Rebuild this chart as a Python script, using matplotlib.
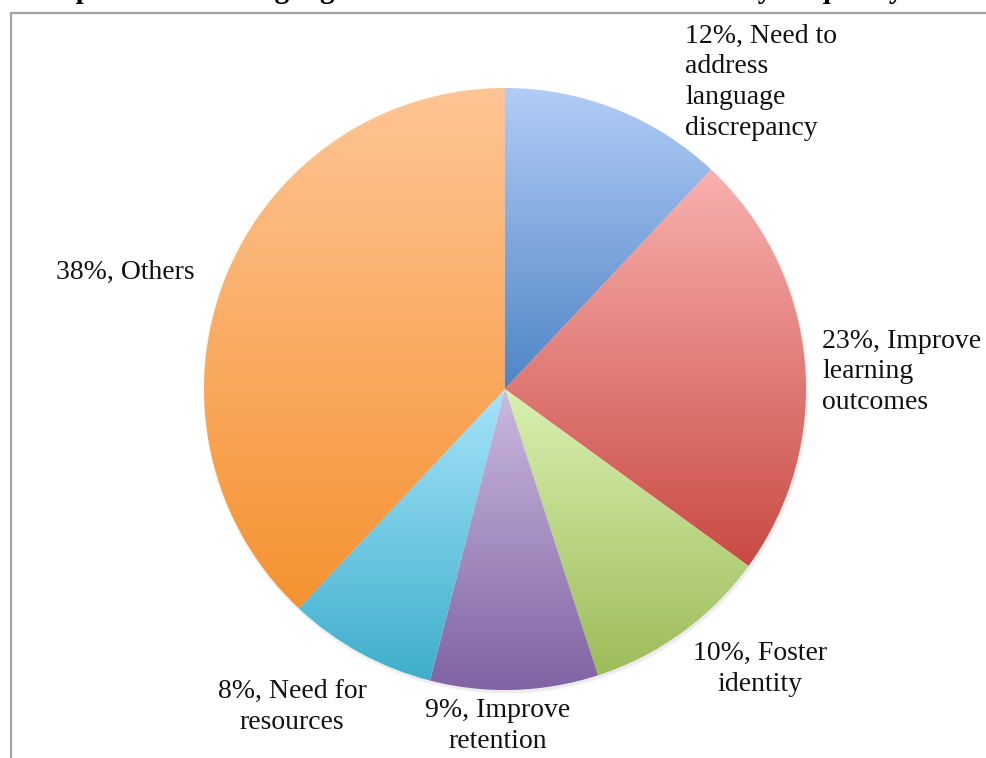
import numpy as np
import matplotlib
matplotlib.use("Agg")
import matplotlib.pyplot as plt
from matplotlib.colors import LinearSegmentedColormap
from matplotlib.lines import Line2D
from matplotlib.patches import Circle

# data (clockwise from 12 o'clock)
reasons = ["Need to\naddress\nlanguage\ndiscrepancy", "Improve\nlearning\noutcomes",
           "Foster\nidentity", "Improve\nretention", "Need for\nresources", "Others"]
shares = [12, 23, 10, 9, 8, 38]
top_colors = ["#b2ccf6", "#f9b1af", "#d9f1b2", "#cbbadf", "#a6e4fa", "#ffc595"]
bottom_colors = ["#4f85c6", "#c94a43", "#9dbc58", "#8063a3", "#3eaecb", "#f59230"]

W, H = 987, 758
fig = plt.figure(figsize=(W / 100, H / 100), dpi=100)
ax = fig.add_axes([0, 0, 1, 1])

def px(x, y):
    # reference pixel (origin top-left) -> data coords
    return x, H - y

cx, cy = px(505, 389)
radius = 301

# soft shadow under the pie
for k, a in enumerate([0.07, 0.05, 0.04]):
    ax.add_patch(Circle((cx + 1.5, cy - 2.5), radius + k, color="#888888", alpha=a, lw=0, zorder=0))

wedges, _ = ax.pie(shares, startangle=90, counterclock=False, center=(cx, cy), radius=radius,
                   frame=True, wedgeprops=dict(lw=0, fc="none"))

grad = np.linspace(1, 0, 256).reshape(-1, 1)
for w, c0, c1 in zip(wedges, top_colors, bottom_colors):
    bb = w.get_path().get_extents()
    cmap = LinearSegmentedColormap.from_list("g", [c1, c0])
    im = ax.imshow(grad, cmap=cmap, aspect="auto", origin="upper",
                   extent=[bb.x0, bb.x1, bb.y0, bb.y1], zorder=1, interpolation="bilinear")
    im.set_clip_path(w)

ax.set_xlim(0, W)
ax.set_ylim(0, H)
ax.axis("off")

# data labels as placed in the reference
label_pos = [(685, 82, "left"), (822, 372, "left"), (760, 669, "center"),
             (498, 726, "center"), (292, 707, "center"), (125, 272, "center")]
font = dict(family="Liberation Serif", size=20, color="#111111")
for name, v, (x, y, ha) in zip(reasons, shares, label_pos):
    first, _, rest = name.partition("\n")
    text = f"{v}%, {first}" + ("\n" + rest if rest else "")
    tx, ty = px(x, y)
    ax.text(tx, ty, text, ha=ha, va="center", multialignment=ha, linespacing=1.3, zorder=3, **font)

# chart frame (cropped) and clipped title
ax.add_line(Line2D([10.5, 10.5, W + 5], [-5, H - 12.5, H - 12.5], color="#a3a3a3", lw=1.6, zorder=4))
fig.text(40 / W, 1 + 1.5 / H, "Importance of Language Maintenance: Themes Ranked by frequency",
         ha="left", va="baseline", fontsize=21, fontweight="bold", family="Liberation Serif")

fig.savefig("out.png", dpi=100)
